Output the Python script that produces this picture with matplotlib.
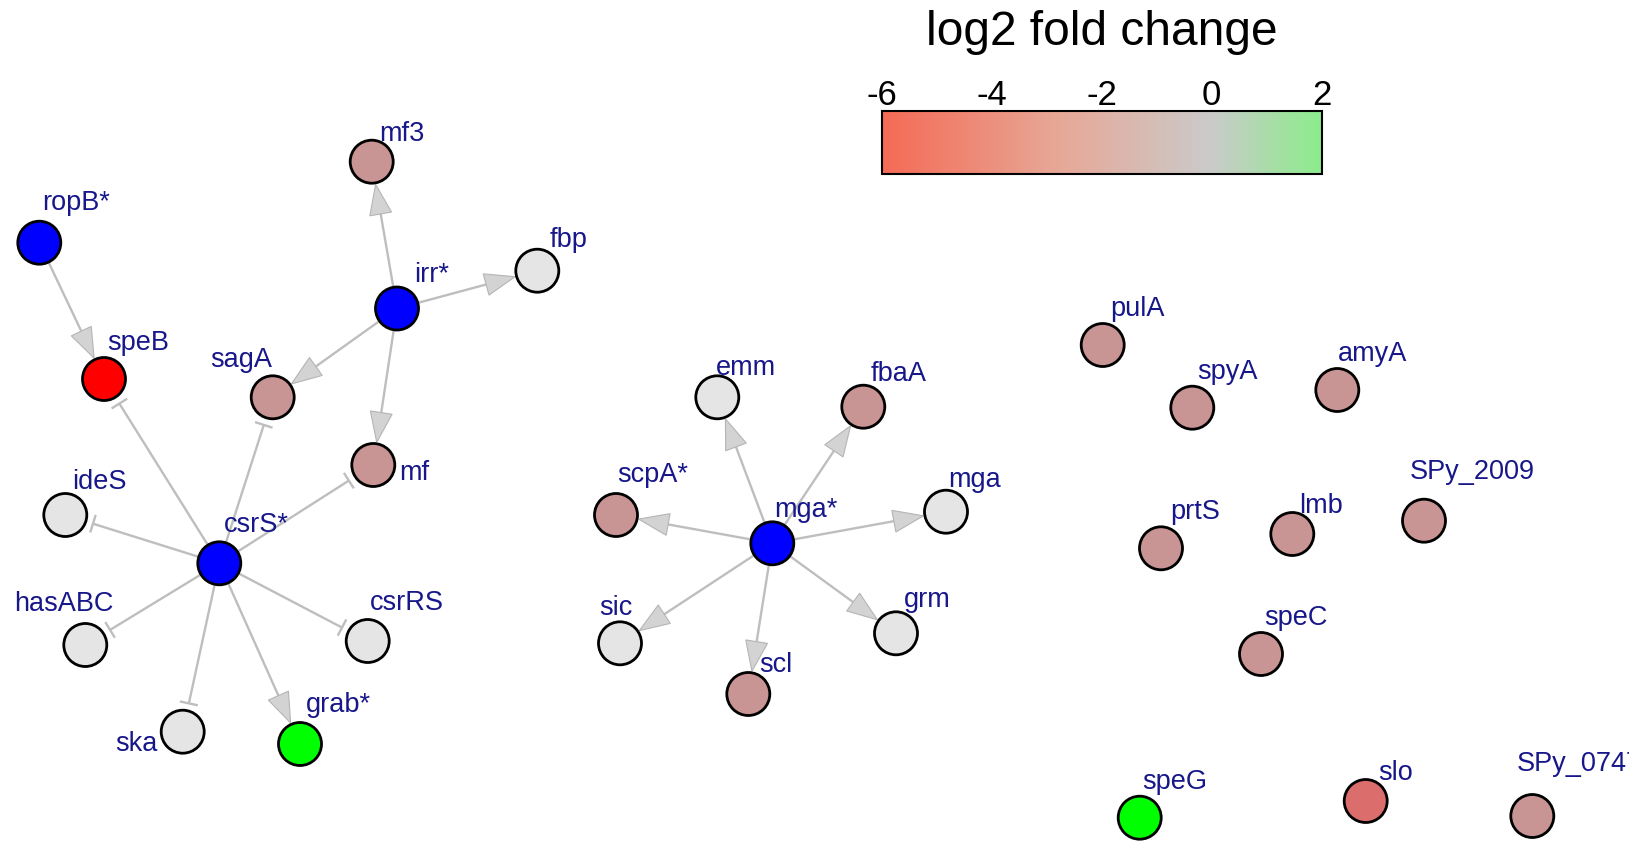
import numpy as np
import matplotlib
matplotlib.use("Agg")
import matplotlib.pyplot as plt
from matplotlib.colors import LinearSegmentedColormap, Normalize
from matplotlib.cm import ScalarMappable
from matplotlib.patches import Circle, Polygon

plt.rcParams["font.family"] = ["Liberation Sans", "DejaVu Sans"]

# network layout, in pixels (y grows downward)
node_names = ["ropB*", "speB", "sagA", "irr*", "mf3", "fbp", "mf", "ideS", "csrS*", "hasABC",
              "csrRS", "ska", "grab*", "emm", "fbaA", "scpA*", "mga*", "mga", "sic", "grm",
              "scl", "pulA", "spyA", "amyA", "prtS", "lmb", "SPy_2009", "speC", "speG", "slo",
              "SPy_0747"]
node_x = [39.3, 104.0, 272.7, 397.0, 371.7, 537.3, 373.3, 65.3, 219.3, 85.3,
          367.7, 182.7, 300.0, 717.3, 863.3, 616.0, 772.3, 946.0, 620.0, 896.0,
          748.3, 1102.7, 1192.3, 1337.3, 1161.0, 1292.3, 1424.0, 1261.0, 1139.7, 1365.7,
          1532.3]
node_y = [242.7, 379.0, 397.3, 308.5, 161.7, 270.7, 465.0, 515.0, 563.3, 645.0,
          641.0, 731.7, 744.0, 397.3, 406.7, 515.0, 543.3, 511.7, 643.3, 633.3,
          694.0, 345.0, 407.7, 390.0, 548.3, 534.0, 520.7, 654.0, 817.7, 801.0,
          816.0]
node_status = ["regulator", "lost", "down", "regulator", "down", "unchanged", "down", "unchanged",
               "regulator", "unchanged", "unchanged", "unchanged", "up", "unchanged", "down",
               "down", "regulator", "unchanged", "unchanged", "unchanged", "down", "down",
               "down", "down", "down", "down", "down", "down", "up", "strong_down", "down"]

# regulatory edges: "act" = activation (arrow), "rep" = repression (T bar)
edge_src = ["ropB*", "irr*", "irr*", "irr*", "irr*",
            "csrS*", "csrS*", "csrS*", "csrS*", "csrS*", "csrS*", "csrS*", "csrS*",
            "mga*", "mga*", "mga*", "mga*", "mga*", "mga*", "mga*"]
edge_dst = ["speB", "mf3", "fbp", "sagA", "mf",
            "speB", "sagA", "mf", "ideS", "hasABC", "ska", "csrRS", "grab*",
            "emm", "fbaA", "scpA*", "mga", "sic", "scl", "grm"]
edge_kind = ["act", "act", "act", "act", "act",
             "rep", "rep", "rep", "rep", "rep", "rep", "rep", "act",
             "act", "act", "act", "act", "act", "act", "act"]

fc_min, fc_max = -6, 2
fc_ticks = [-6, -4, -2, 0, 2]

STATUS_COLORS = {
    "regulator": "#0000FF",
    "lost": "#FF0000",
    "strong_down": "#DB6D6D",
    "down": "#C99494",
    "unchanged": "#E5E5E5",
    "up": "#00FF00",
}
LABEL_COLOR = "#17178A"
EDGE_COLOR = "#BEBEBE"
HEAD_FC = "#D3D3D3"
HEAD_EC = "#B5B5B5"

# where each label sits relative to its node
LABEL_OFFSETS = {
    "ropB*": (37, -40), "speB": (34, -36), "sagA": (-32, -37), "irr*": (35, -33),
    "mf3": (30, -28), "fbp": (31, -31), "mf": (41, 8), "ideS": (34, -33),
    "csrS*": (37, -38), "hasABC": (-21, -41), "csrRS": (39, -38), "ska": (-46, 12),
    "grab*": (38, -39), "emm": (29, -29), "fbaA": (35, -33), "scpA*": (37, -40),
    "mga*": (34, -33), "mga": (29, -32), "sic": (-4, -35), "grm": (31, -33),
    "scl": (28, -29), "pulA": (35, -36), "spyA": (35, -36), "amyA": (35, -36),
    "prtS": (34, -36), "lmb": (29, -28), "SPy_2009": (48, -49), "speC": (35, -36),
    "speG": (35, -36), "slo": (30, -28), "SPy_0747": (47, -52),
}

W, H = 1647, 841
R = 21.5          # node radius, px
ARROW_LEN = 30
ARROW_HALF = 11
BAR_DIST = 29
BAR_HALF = 8

fig = plt.figure(figsize=(W / 100, H / 100), dpi=100)
plot_w = 1629
ax = fig.add_axes([0, 0, plot_w / W, 1])
ax.set_xlim(0, plot_w)
ax.set_ylim(H, 0)
ax.axis("off")

pos = {n: np.array([x, y]) for n, x, y in zip(node_names, node_x, node_y)}

for s, t, kind in zip(edge_src, edge_dst, edge_kind):
    p0, p1 = pos[s], pos[t]
    u = (p1 - p0) / np.hypot(*(p1 - p0))
    perp = np.array([-u[1], u[0]])
    start = p0 + u * R
    if kind == "act":
        tip = p1 - u * (R + 1.5)
        base = tip - u * ARROW_LEN
        ax.plot([start[0], base[0]], [start[1], base[1]], color=EDGE_COLOR,
                lw=1.7, solid_capstyle="butt", zorder=1)
        head = Polygon([tip, base + perp * ARROW_HALF, base - perp * ARROW_HALF],
                       closed=True, fc=HEAD_FC, ec=HEAD_EC, lw=0.8, zorder=2)
        ax.add_patch(head)
    else:
        end = p1 - u * BAR_DIST
        ax.plot([start[0], end[0]], [start[1], end[1]], color=EDGE_COLOR,
                lw=1.7, solid_capstyle="butt", zorder=1)
        b0, b1 = end + perp * BAR_HALF, end - perp * BAR_HALF
        ax.plot([b0[0], b1[0]], [b0[1], b1[1]], color=EDGE_COLOR, lw=1.7, zorder=1)

for n, st in zip(node_names, node_status):
    x, y = pos[n]
    ax.add_patch(Circle((x, y), R, fc=STATUS_COLORS[st], ec="black", lw=2.0, zorder=3))
    dx, dy = LABEL_OFFSETS[n]
    ax.text(x + dx, y + dy, n, color=LABEL_COLOR, fontsize=19.5, ha="center",
            va="center", zorder=4, clip_on=True)

# colour key
cmap = LinearSegmentedColormap.from_list(
    "fc", [(0.0, "#F46A55"), (0.4, "#E7A796"), (0.75, "#CACACA"), (1.0, "#8CEC8C")])
bar_l, bar_r, bar_t, bar_b = 881.7, 1321.7, 111, 174
cax = fig.add_axes([bar_l / W, 1 - bar_b / H, (bar_r - bar_l) / W, (bar_b - bar_t) / H])
cb = fig.colorbar(ScalarMappable(norm=Normalize(fc_min, fc_max), cmap=cmap), cax=cax,
                  orientation="horizontal", ticks=fc_ticks)
cax.tick_params(length=0, labelbottom=False, labeltop=False)
cb.outline.set_linewidth(1.5)
for v in fc_ticks:
    cax.text(v, 1 + 6 / (bar_b - bar_t), f"{v}", transform=cax.get_xaxis_transform(),
             ha="center", va="baseline", fontsize=25)
fig.text((bar_l + bar_r) / 2 / W, 1 - 45 / H, "log2 fold change", ha="center",
         va="baseline", fontsize=34.5)

fig.savefig("out.png", dpi=100, facecolor="white")
